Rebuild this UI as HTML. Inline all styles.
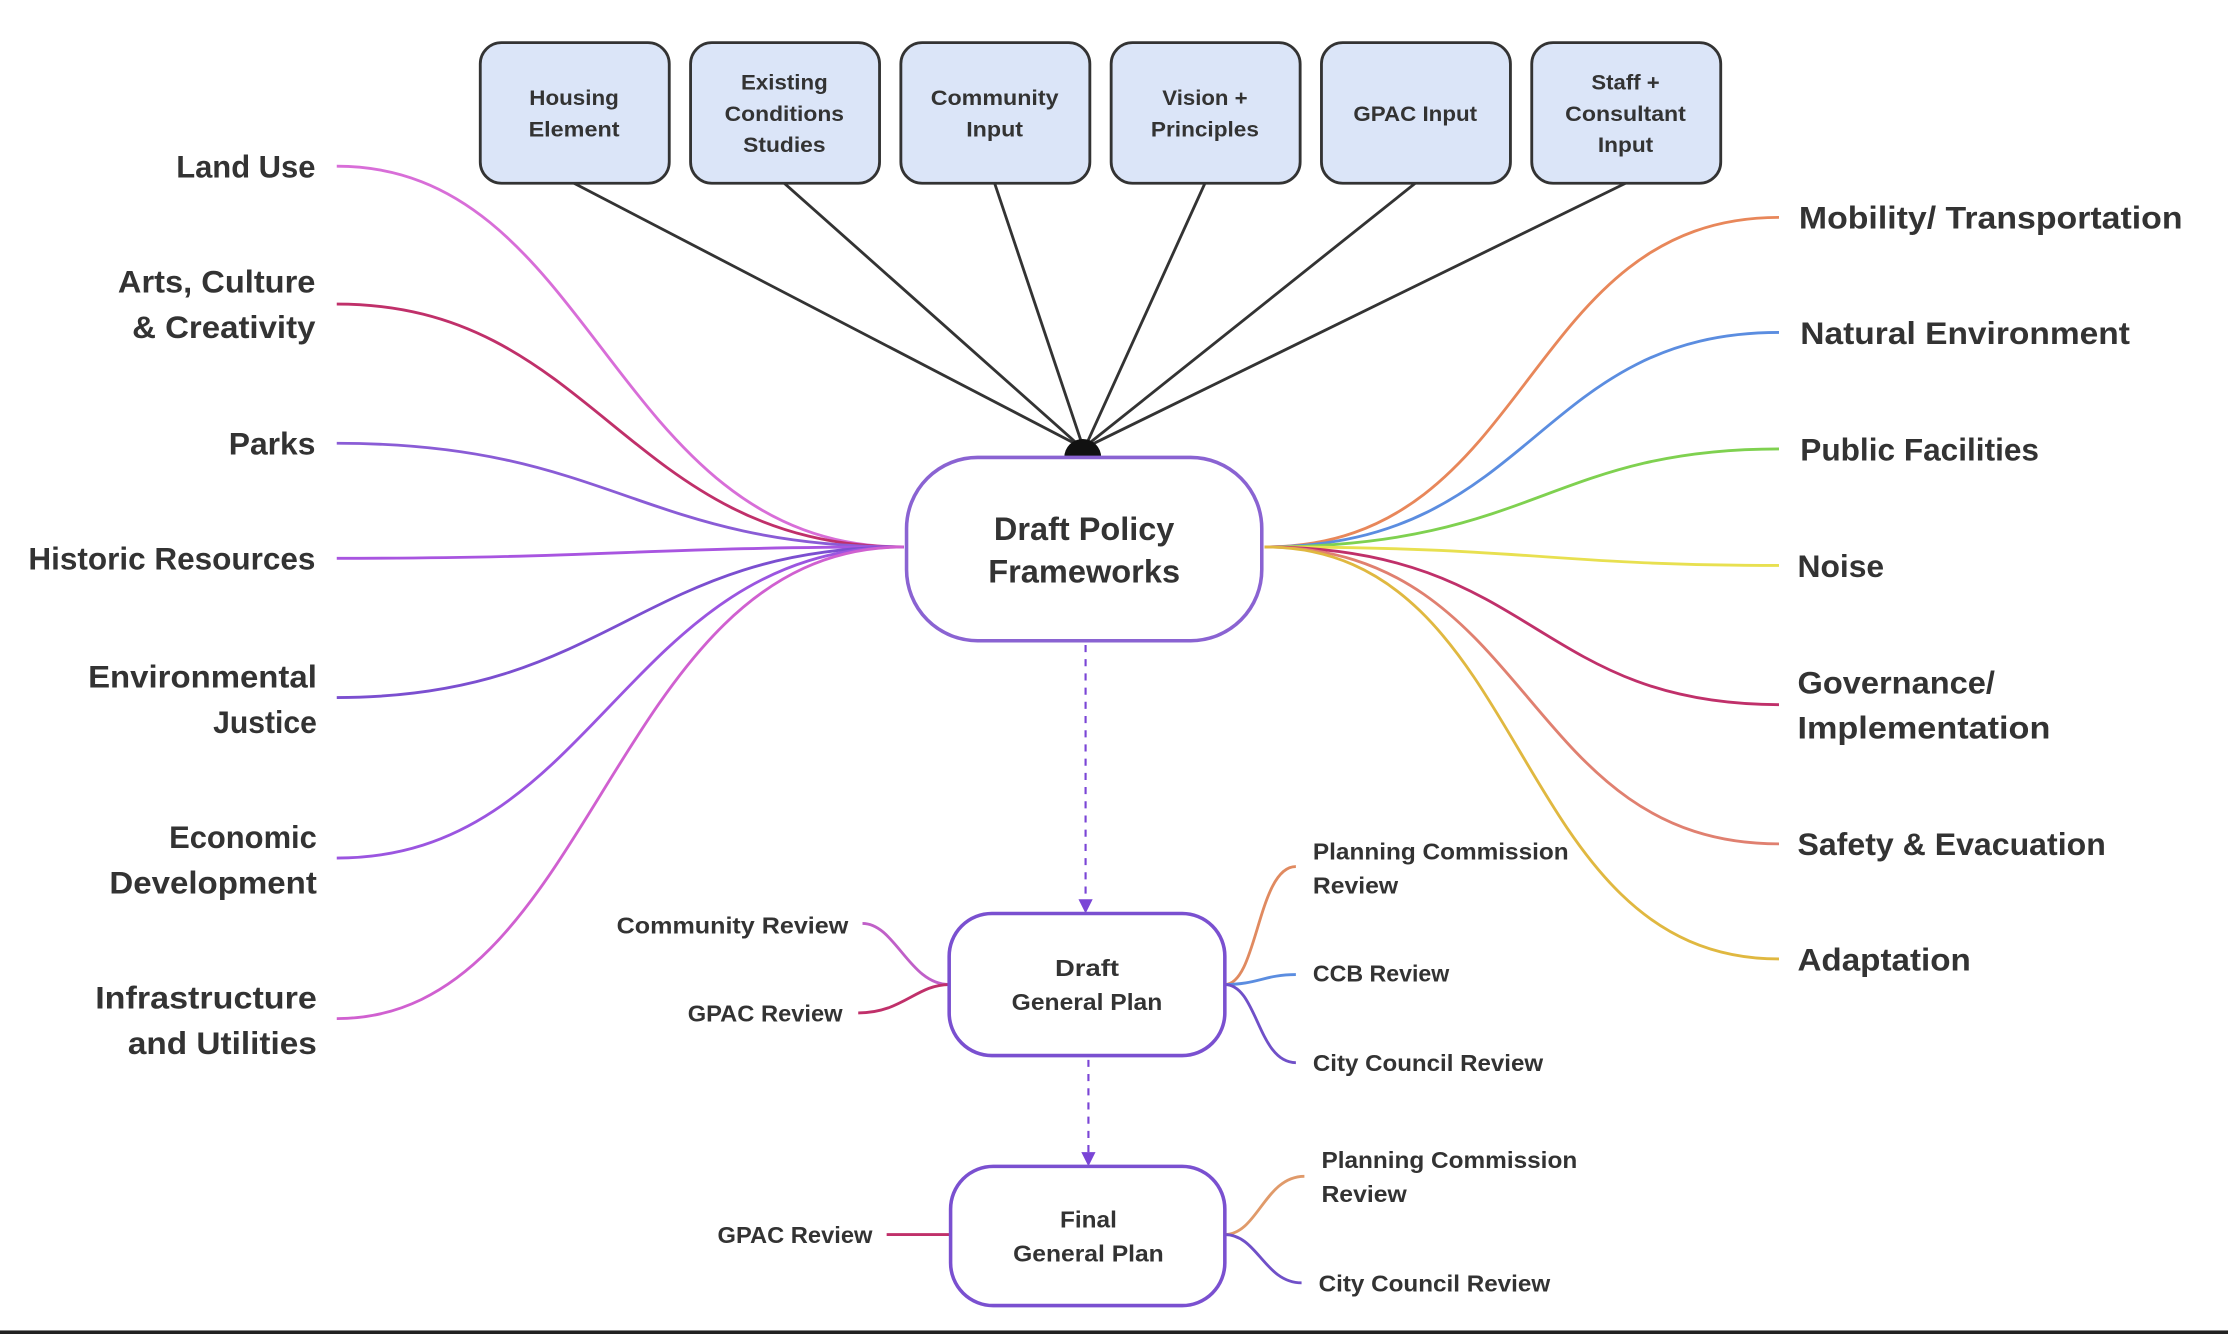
<!DOCTYPE html>
<html><head><meta charset="utf-8"><style>
html,body{margin:0;padding:0;background:#fff;width:2228px;height:1334px;overflow:hidden}
svg{display:block}
text{font-family:"Liberation Sans",sans-serif;font-weight:bold;fill:#333}
.b{font-size:15px;fill:#444}
.L{font-size:22px}
.s{font-size:16px;fill:#444}
</style></head><body>
<svg width="2228" height="1334" viewBox="0 0 1568 939" preserveAspectRatio="none" xmlns="http://www.w3.org/2000/svg">
<defs>
<marker id="ar" markerWidth="10" markerHeight="10" refX="5" refY="8" orient="auto" markerUnits="userSpaceOnUse">
<path d="M0,0 L5,9 L10,0 Z" fill="#7a45d6" transform="rotate(-90 5 5)"/>
</marker>
</defs>
<rect x="0" y="0" width="1568" height="939" fill="#fff"/>
<!-- top connectors -->
<g stroke="#333" stroke-width="2" fill="none">
<line x1="404" y1="129" x2="760" y2="314"/>
<line x1="552" y1="129" x2="760" y2="314"/>
<line x1="700" y1="129" x2="762" y2="314"/>
<line x1="848" y1="129" x2="764" y2="314"/>
<line x1="996" y1="129" x2="764" y2="314"/>
<line x1="1144" y1="129" x2="766" y2="314"/>
</g>
<path d="M749,322 A13,13 0 0 1 775,322 Z" fill="#111"/>
<!-- top boxes -->
<g fill="#dbe5f8" stroke="#333" stroke-width="2">
<rect x="338" y="30" width="133" height="99" rx="15"/>
<rect x="486" y="30" width="133" height="99" rx="15"/>
<rect x="634" y="30" width="133" height="99" rx="15"/>
<rect x="782" y="30" width="133" height="99" rx="15"/>
<rect x="930" y="30" width="133" height="99" rx="15"/>
<rect x="1078" y="30" width="133" height="99" rx="15"/>
</g>
<g class="b" text-anchor="middle">
<text x="404" y="74" textLength="63" lengthAdjust="spacingAndGlyphs">Housing</text>
<text x="404" y="96" textLength="64" lengthAdjust="spacingAndGlyphs">Element</text>
<text x="552" y="63" textLength="61" lengthAdjust="spacingAndGlyphs">Existing</text>
<text x="552" y="85" textLength="84" lengthAdjust="spacingAndGlyphs">Conditions</text>
<text x="552" y="107" textLength="58" lengthAdjust="spacingAndGlyphs">Studies</text>
<text x="700" y="74" textLength="90" lengthAdjust="spacingAndGlyphs">Community</text>
<text x="700" y="96" textLength="40" lengthAdjust="spacingAndGlyphs">Input</text>
<text x="848" y="74" textLength="60" lengthAdjust="spacingAndGlyphs">Vision +</text>
<text x="848" y="96" textLength="76" lengthAdjust="spacingAndGlyphs">Principles</text>
<text x="996" y="85" textLength="87" lengthAdjust="spacingAndGlyphs">GPAC Input</text>
<text x="1144" y="63" textLength="48" lengthAdjust="spacingAndGlyphs">Staff +</text>
<text x="1144" y="85" textLength="85" lengthAdjust="spacingAndGlyphs">Consultant</text>
<text x="1144" y="107" textLength="39" lengthAdjust="spacingAndGlyphs">Input</text>
</g>
<!-- left curves -->
<g fill="none" stroke-width="2">
<path d="M237,117 C420,117 430,385 636,385" stroke="#d86ed8"/>
<path d="M237,214 C420,214 440,385 636,385" stroke="#c0306a"/>
<path d="M237,312 C430,312 450,385 636,385" stroke="#8a5cd6"/>
<path d="M237,393 C430,393 450,385 636,385" stroke="#a855e0"/>
<path d="M237,491 C430,491 450,385 636,385" stroke="#7b4fd0"/>
<path d="M237,604 C420,604 440,385 636,385" stroke="#9b55e0"/>
<path d="M237,717 C420,717 430,385 636,385" stroke="#d060d0"/>
</g>
<!-- right curves -->
<g fill="none" stroke-width="2">
<path d="M890,385 C1080,385 1070,153 1252,153" stroke="#e8875a"/>
<path d="M890,385 C1080,385 1080,234 1252,234" stroke="#5b8de0"/>
<path d="M890,385 C1080,385 1090,316 1252,316" stroke="#7fd150"/>
<path d="M890,385 C1080,385 1090,398 1252,398" stroke="#e8e050"/>
<path d="M890,385 C1080,385 1080,496 1252,496" stroke="#c0306a"/>
<path d="M890,385 C1080,385 1070,594 1252,594" stroke="#e08070"/>
<path d="M890,385 C1080,385 1060,675 1252,675" stroke="#e0b840"/>
</g>
<!-- main node -->
<rect x="638" y="322" width="250" height="129" rx="50" fill="#fff" stroke="#8a63d2" stroke-width="2.5"/>
<text x="763" y="380" text-anchor="middle" style="font-size:23px" textLength="127" lengthAdjust="spacingAndGlyphs">Draft Policy</text>
<text x="763" y="410" text-anchor="middle" style="font-size:23px" textLength="135" lengthAdjust="spacingAndGlyphs">Frameworks</text>
<!-- left labels -->
<g class="L" text-anchor="end">
<text x="222" y="125" textLength="98" lengthAdjust="spacingAndGlyphs">Land Use</text>
<text x="222" y="206" textLength="139" lengthAdjust="spacingAndGlyphs">Arts, Culture</text>
<text x="222" y="238" textLength="129" lengthAdjust="spacingAndGlyphs">&amp; Creativity</text>
<text x="222" y="320" textLength="61" lengthAdjust="spacingAndGlyphs">Parks</text>
<text x="222" y="401" textLength="202" lengthAdjust="spacingAndGlyphs">Historic Resources</text>
<text x="223" y="484" textLength="161" lengthAdjust="spacingAndGlyphs">Environmental</text>
<text x="223" y="516" textLength="73" lengthAdjust="spacingAndGlyphs">Justice</text>
<text x="223" y="597" textLength="104" lengthAdjust="spacingAndGlyphs">Economic</text>
<text x="223" y="629" textLength="146" lengthAdjust="spacingAndGlyphs">Development</text>
<text x="223" y="710" textLength="156" lengthAdjust="spacingAndGlyphs">Infrastructure</text>
<text x="223" y="742" textLength="133" lengthAdjust="spacingAndGlyphs">and Utilities</text>
</g>
<!-- right labels -->
<g class="L">
<text x="1266" y="161" textLength="270" lengthAdjust="spacingAndGlyphs">Mobility/ Transportation</text>
<text x="1267" y="242" textLength="232" lengthAdjust="spacingAndGlyphs">Natural Environment</text>
<text x="1267" y="324" textLength="168" lengthAdjust="spacingAndGlyphs">Public Facilities</text>
<text x="1265" y="406" textLength="61" lengthAdjust="spacingAndGlyphs">Noise</text>
<text x="1265" y="488" textLength="139" lengthAdjust="spacingAndGlyphs">Governance/</text>
<text x="1265" y="520" textLength="178" lengthAdjust="spacingAndGlyphs">Implementation</text>
<text x="1265" y="602" textLength="217" lengthAdjust="spacingAndGlyphs">Safety &amp; Evacuation</text>
<text x="1265" y="683" textLength="122" lengthAdjust="spacingAndGlyphs">Adaptation</text>
</g>
<!-- dashed arrows -->
<g stroke="#7a45d6" stroke-width="1.5" stroke-dasharray="5,5" fill="none">
<line x1="764" y1="454" x2="764" y2="634"/>
<line x1="766" y1="746" x2="766" y2="812"/>
</g>
<path d="M759,633 L769,633 L764,643 Z" fill="#7a45d6"/>
<path d="M761,811 L771,811 L766,821 Z" fill="#7a45d6"/>
<!-- draft general plan -->
<g fill="none" stroke-width="2">
<path d="M607,650 C630,650 640,693 668,693" stroke="#c060c8"/>
<path d="M604,713 C635,713 645,693 668,693" stroke="#c0306a"/>
<path d="M862,693 C885,693 885,610 912,610" stroke="#e08a60"/>
<path d="M862,693 C885,693 890,686 912,686" stroke="#5b8de0"/>
<path d="M862,693 C885,693 885,748 912,748" stroke="#7050c8"/>
<path d="M624,869 L669,869" stroke="#c0306a"/>
<path d="M862,869 C885,869 890,828 918,828" stroke="#e09a6a"/>
<path d="M862,869 C885,869 890,903 916,903" stroke="#7050c8"/>
</g>
<rect x="668" y="643" width="194" height="100" rx="30" fill="#fff" stroke="#7a50d0" stroke-width="2.5"/>
<rect x="669" y="821" width="193" height="98" rx="30" fill="#fff" stroke="#7a50d0" stroke-width="2.5"/>
<g class="s" text-anchor="middle">
<text x="765" y="687" textLength="45" lengthAdjust="spacingAndGlyphs">Draft</text>
<text x="765" y="711" textLength="106" lengthAdjust="spacingAndGlyphs">General Plan</text>
<text x="766" y="864" textLength="40" lengthAdjust="spacingAndGlyphs">Final</text>
<text x="766" y="888" textLength="106" lengthAdjust="spacingAndGlyphs">General Plan</text>
</g>
<g class="s" text-anchor="end">
<text x="597" y="657" textLength="163" lengthAdjust="spacingAndGlyphs">Community Review</text>
<text x="593" y="719" textLength="109" lengthAdjust="spacingAndGlyphs">GPAC Review</text>
<text x="614" y="875" textLength="109" lengthAdjust="spacingAndGlyphs">GPAC Review</text>
</g>
<g class="s">
<text x="924" y="605" textLength="180" lengthAdjust="spacingAndGlyphs">Planning Commission</text>
<text x="924" y="629" textLength="60" lengthAdjust="spacingAndGlyphs">Review</text>
<text x="924" y="691" textLength="96" lengthAdjust="spacingAndGlyphs">CCB Review</text>
<text x="924" y="754" textLength="162" lengthAdjust="spacingAndGlyphs">City Council Review</text>
<text x="930" y="822" textLength="180" lengthAdjust="spacingAndGlyphs">Planning Commission</text>
<text x="930" y="846" textLength="60" lengthAdjust="spacingAndGlyphs">Review</text>
<text x="928" y="909" textLength="163" lengthAdjust="spacingAndGlyphs">City Council Review</text>
</g>
<rect x="0" y="936.5" width="1568" height="2.5" fill="#222"/>
</svg>
</body></html>
